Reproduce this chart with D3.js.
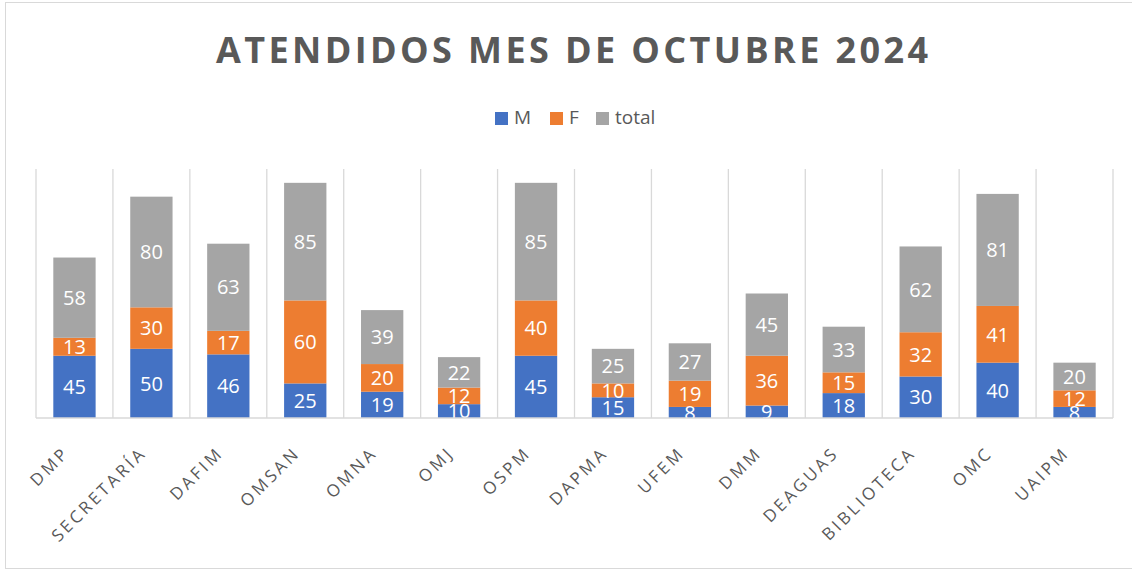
<!DOCTYPE html>
<html>
<head>
<meta charset="utf-8">
<script src="https://cdn.jsdelivr.net/npm/d3@7"></script>
<style>
    body { margin: 0; background: #fff; }
    svg text { font-family: "Open Sans", "Noto Sans", sans-serif; }
</style>
</head>
<body>
<div class="graph"></div>
<script>
// data ------------------
const categories = ['DMP', 'SECRETARÍA', 'DAFIM', 'OMSAN', 'OMNA', 'OMJ', 'OSPM',
    'DAPMA', 'UFEM', 'DMM', 'DEAGUAS', 'BIBLIOTECA', 'OMC', 'UAIPM']
const valuesM = [45, 50, 46, 25, 19, 10, 45, 15, 8, 9, 18, 30, 40, 8]
const valuesF = [13, 30, 17, 60, 20, 12, 40, 10, 19, 36, 15, 32, 41, 12]
const valuesTotal = [58, 80, 63, 85, 39, 22, 85, 25, 27, 45, 33, 62, 81, 20]
const seriesNames = ['M', 'F', 'total']

const colours = { M: '#4472C4', F: '#ED7D31', total: '#A5A5A5' }

// config
const w = 1132
const h = 571
const margin = { left: 36, right: 19, top: 169, bottom: 153 }

const rows = categories.map((c, i) => ({
    name: c, M: valuesM[i], F: valuesF[i], total: valuesTotal[i]
}))
const stacked = d3.stack().keys(seriesNames)(rows)

// scales
const xScale = d3.scaleBand()
    .domain(categories)
    .range([margin.left, w - margin.right])
    .paddingInner(0.45)
    .paddingOuter(0.225)

const yScale = d3.scaleLinear()
    .domain([0, 180])
    .range([h - margin.bottom, margin.top])

const svg = d3.select('.graph')
    .append('svg')
    .attr('width', w)
    .attr('height', h)

// chart border
svg.append('rect')
    .attr('x', 5.5).attr('y', 2.5)
    .attr('width', w + 10).attr('height', 566)
    .attr('fill', 'none')
    .attr('stroke', '#D9D9D9')

// title
svg.append('text')
    .attr('x', 572).attr('y', 63)
    .attr('text-anchor', 'middle')
    .attr('font-size', 36)
    .attr('font-weight', 'bold')
    .attr('fill', '#595959')
    .attr('textLength', 712)
    .attr('lengthAdjust', 'spacing')
    .text('ATENDIDOS MES DE OCTUBRE 2024')

// legend
const legendX = { M: 495, F: 550, total: 596 }
const legend = svg.append('g')
    .selectAll('g')
    .data(seriesNames)
    .join('g')
    .attr('transform', d => 'translate(' + legendX[d] + ',112)')
legend.append('rect')
    .attr('width', 13).attr('height', 13)
    .attr('fill', d => colours[d])
legend.append('text')
    .attr('x', 19).attr('y', 12)
    .attr('font-size', 19)
    .attr('fill', '#595959')
    .text(d => d)

// vertical gridlines between categories
const bandStep = xScale.step()
const edges = d3.range(categories.length + 1)
    .map(i => margin.left + i * bandStep)
svg.append('g')
    .selectAll('line')
    .data(edges)
    .join('line')
    .attr('x1', d => d).attr('x2', d => d)
    .attr('y1', yScale(180)).attr('y2', yScale(0))
    .attr('stroke', '#D9D9D9')
    .attr('stroke-width', 1.3)

// clip for labels
svg.append('clipPath').attr('id', 'plot-clip')
    .append('rect')
    .attr('x', margin.left).attr('y', margin.top)
    .attr('width', w - margin.left - margin.right)
    .attr('height', yScale(0) - margin.top)

// bars
const layers = svg.append('g')
    .selectAll('g')
    .data(stacked)
    .join('g')
    .attr('fill', d => colours[d.key])

layers.selectAll('rect')
    .data(d => d)
    .join('rect')
    .attr('x', d => xScale(d.data.name))
    .attr('width', xScale.bandwidth())
    .attr('y', d => yScale(d[1]))
    .attr('height', d => yScale(d[0]) - yScale(d[1]))

// data labels
svg.append('g')
    .attr('clip-path', 'url(#plot-clip)')
    .selectAll('g')
    .data(stacked)
    .join('g')
    .selectAll('text')
    .data(d => d)
    .join('text')
    .attr('x', d => xScale(d.data.name) + xScale.bandwidth() / 2)
    .attr('y', d => (yScale(d[0]) + yScale(d[1])) / 2)
    .attr('dy', '0.36em')
    .attr('text-anchor', 'middle')
    .attr('font-size', 20)
    .attr('fill', '#fff')
    .text(d => d[1] - d[0])

// x axis line
svg.append('line')
    .attr('x1', margin.left).attr('x2', w - margin.right)
    .attr('y1', yScale(0)).attr('y2', yScale(0))
    .attr('stroke', '#D9D9D9')
    .attr('stroke-width', 1.3)

// category labels
svg.append('g')
    .selectAll('text')
    .data(categories)
    .join('text')
    .attr('transform', d => 'translate(' + (xScale(d) + xScale.bandwidth() / 2 - 4) + ',' + (yScale(0) + 36) + ') rotate(-45)')
    .attr('text-anchor', 'end')
    .attr('font-size', 17)
    .attr('letter-spacing', 3)
    .attr('fill', '#595959')
    .text(d => d)
</script>
</body>
</html>
